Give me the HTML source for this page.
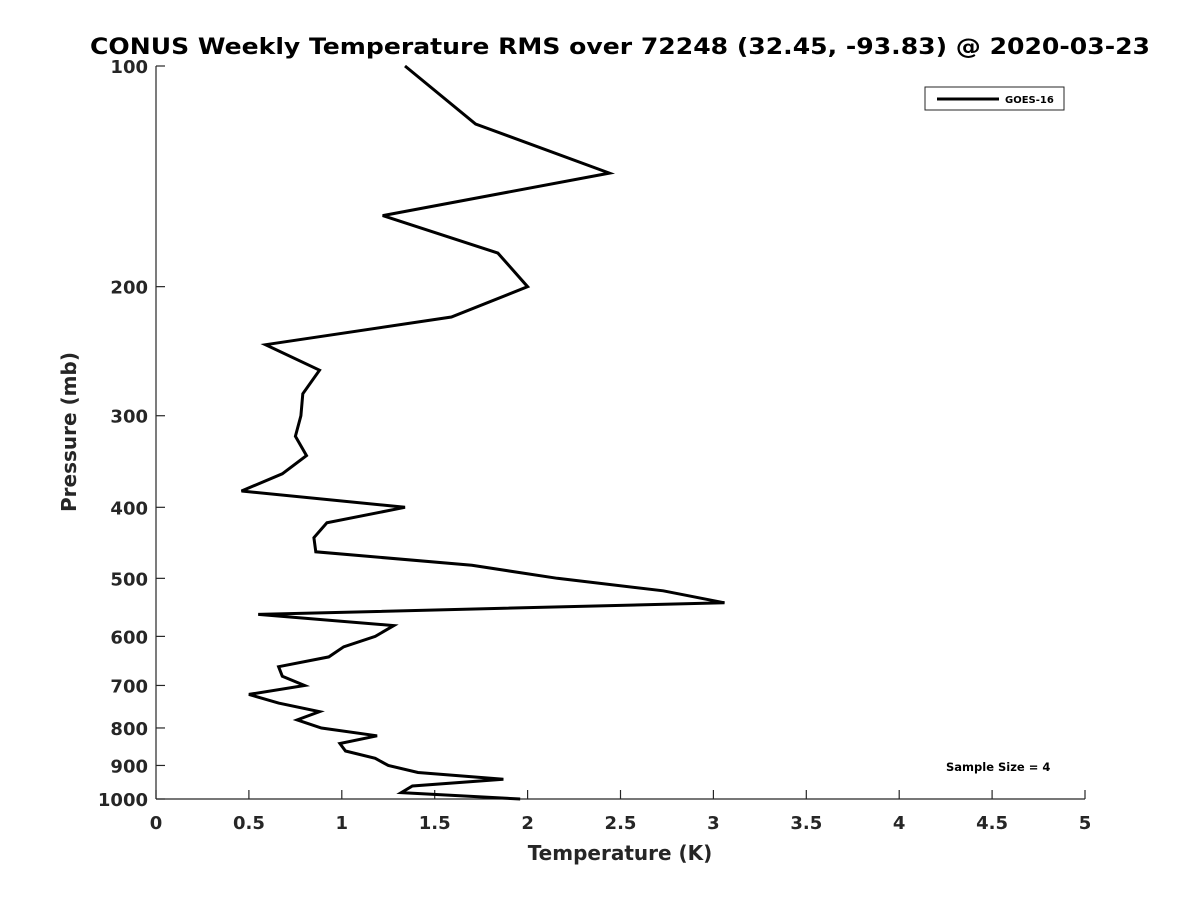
<!DOCTYPE html>
<html><head><meta charset="utf-8"><style>
body{margin:0;background:#fff;}
svg{display:block;font-family:"DejaVu Sans","Liberation Sans",sans-serif;}
</style></head><body>
<svg id="chart" width="1200" height="900">
<text x="620" y="54" text-anchor="middle" font-size="22" font-weight="bold" fill="#000" textLength="1060" lengthAdjust="spacingAndGlyphs">CONUS Weekly Temperature RMS over 72248 (32.45, -93.83) @ 2020-03-23</text>
<text x="620" y="860" text-anchor="middle" font-size="20" font-weight="bold" fill="#262626">Temperature (K)</text>
<text transform="translate(76,432) rotate(-90)" text-anchor="middle" font-size="20" font-weight="bold" fill="#262626">Pressure (mb)</text>
<g id="axes"></g>
<g id="series"></g>
<g>
<rect x="925" y="87" width="139" height="23" fill="#fff" stroke="#262626" stroke-width="1"/>
<line x1="937" y1="99" x2="999" y2="99" stroke="#000" stroke-width="3"/>
<text x="1005" y="103" font-size="10" font-weight="bold" fill="#000">GOES-16</text>
</g>
<text x="946" y="771" font-size="11.5" font-weight="bold" fill="#000">Sample Size = 4</text>
</svg>
<script>
const xTicks=[0,0.5,1,1.5,2,2.5,3,3.5,4,4.5,5];
const xTickLabels=["0","0.5","1","1.5","2","2.5","3","3.5","4","4.5","5"];
const yTicks=[100,200,300,400,500,600,700,800,900,1000];
const pressures=[100,120,140,160,180,200,220,240,260,280,300,320,340,360,380,400,420,440,460,480,500,520,540,560,580,600,620,640,660,680,700,720,740,760,780,800,820,840,860,880,900,920,940,960,980,1000];
const rmsValues=[1.34,1.72,2.44,1.22,1.84,2.0,1.59,0.59,0.88,0.79,0.78,0.75,0.81,0.68,0.46,1.34,0.92,0.85,0.86,1.70,2.16,2.73,3.06,0.55,1.28,1.18,1.01,0.93,0.66,0.68,0.80,0.50,0.66,0.88,0.76,0.89,1.19,0.99,1.02,1.18,1.25,1.41,1.87,1.38,1.32,1.96];
const L=156,R=1085,T=66,B=799;
const xs=v=>L+(v-0)/(5-0)*(R-L);
const ys=p=>T+(Math.log10(p)-2)/(3-2)*(B-T);
const NS="http://www.w3.org/2000/svg";
const ax=document.getElementById('axes');
function mk(tag,attrs,parent){const e=document.createElementNS(NS,tag);for(const k in attrs)e.setAttribute(k,attrs[k]);parent.appendChild(e);return e;}
let l=mk('line',{x1:L,y1:B,x2:R,y2:B,stroke:'#262626','stroke-width':1.2},ax);


l=mk('line',{x1:L,y1:T,x2:L,y2:B,stroke:'#262626','stroke-width':1.2},ax);


xTicks.forEach((v,i)=>{
  const x=xs(v);
  const t=mk('line',{x1:x,y1:B,x2:x,y2:B-9,stroke:'#262626','stroke-width':1.2},ax);
  
  
  const tx=mk('text',{x:x,y:B+30,'text-anchor':'middle','font-size':18,'font-weight':'bold',fill:'#262626'},ax);
  tx.textContent=xTickLabels[i];
  
  
});
yTicks.forEach(p=>{
  const y=ys(p);
  const t=mk('line',{x1:L,y1:y,x2:L+9,y2:y,stroke:'#262626','stroke-width':1.2},ax);
  
  
  const tx=mk('text',{x:L-8,y:y+7,'text-anchor':'end','font-size':18,'font-weight':'bold',fill:'#262626'},ax);
  tx.textContent=String(p);
  
  
});
const pts=pressures.map((p,i)=>xs(rmsValues[i]).toFixed(1)+','+ys(p).toFixed(1)).join(' ');
const pl=mk('polyline',{points:pts,fill:'none',stroke:'#000','stroke-width':3,'stroke-linejoin':'miter'},document.getElementById('series'));


</script>
</body></html>
